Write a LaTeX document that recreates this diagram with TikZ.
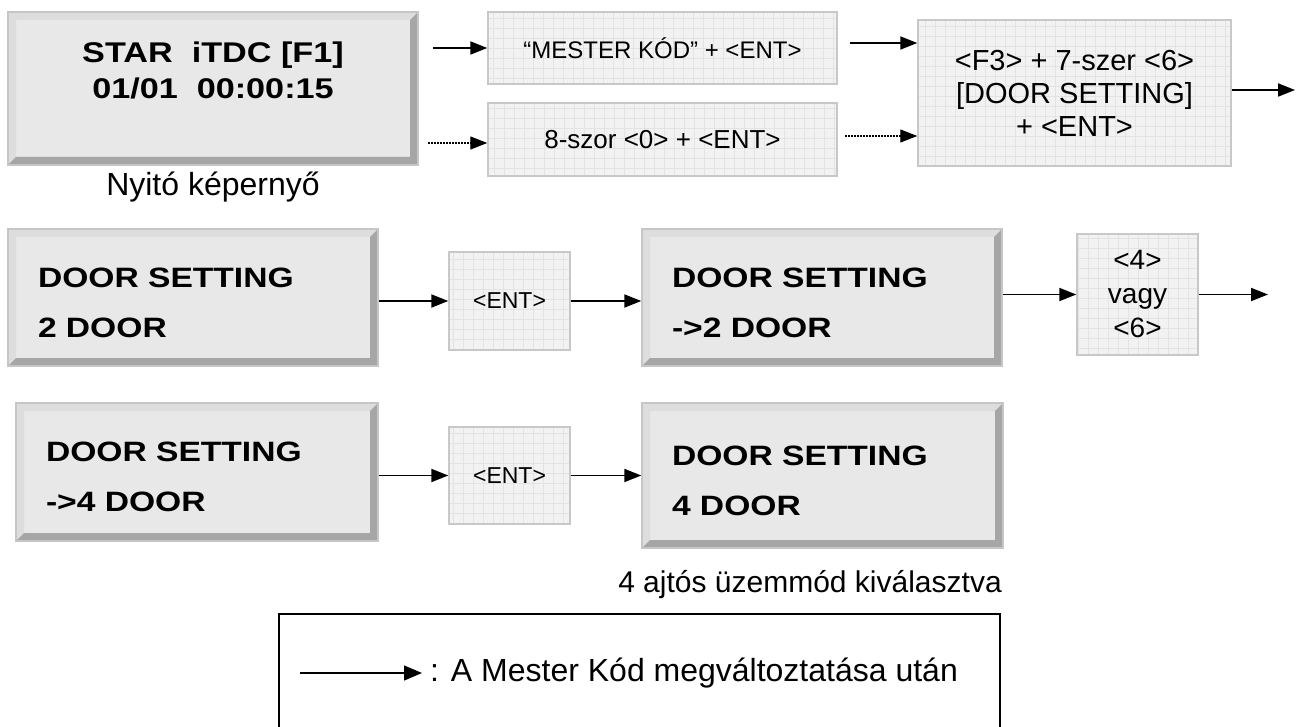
\documentclass[tikz,border=0pt]{standalone}
\usepackage{fontspec}
\setmainfont{Liberation Sans}
\newfontfamily\lcdfont[FakeStretch=1.2]{Liberation Sans}
\usetikzlibrary{arrows, arrows.meta}
\usetikzlibrary{calc}

\definecolor{lcdface}{HTML}{E8E8E8}
\definecolor{lcdedge}{HTML}{C6C6C6}
\definecolor{bevlight}{HTML}{DDDDDD}
\definecolor{bevdark}{HTML}{A6A6A6}
\definecolor{keyface}{HTML}{F2F2F2}
\definecolor{keyedge}{HTML}{C8C8C8}
\definecolor{keygrid}{HTML}{E3E3E3}

\tikzset{
  screen/.style={rectangle, fill=lcdface, draw=lcdedge, line width=1.5pt, inner xsep=30pt, inner ysep=0pt,
    align=left, font=\lcdfont\bfseries\fontsize{28}{50}\selectfont,
    path picture={
      \fill[bevlight] (path picture bounding box.north west) -- (path picture bounding box.north east)
        -- ([xshift=-8pt,yshift=-8pt]path picture bounding box.north east)
        -- ([xshift=8pt,yshift=-8pt]path picture bounding box.north west)
        -- ([xshift=8pt,yshift=8pt]path picture bounding box.south west)
        -- (path picture bounding box.south west) -- cycle;
      \fill[bevdark] (path picture bounding box.south east) -- (path picture bounding box.north east)
        -- ([xshift=-8pt,yshift=-8pt]path picture bounding box.north east)
        -- ([xshift=-8pt,yshift=8pt]path picture bounding box.south east)
        -- ([xshift=8pt,yshift=8pt]path picture bounding box.south west)
        -- (path picture bounding box.south west) -- cycle;
    }},
  doorscreen/.style={screen, text height=30pt},
  keybox/.style={rectangle, fill=keyface, draw=keyedge, line width=1.5pt, inner sep=0pt, align=center,
    path picture={
      \draw[keygrid, line width=0.5pt, step=10pt] (path picture bounding box.south west) grid (path picture bounding box.north east);
    }},
  flow/.style={-{Triangle[length=17pt,width=13pt]}, line width=1.8pt},
  altflow/.style={-{Triangle[length=17pt,width=13pt]}, line width=1.2pt, dash pattern=on 1.5pt off 1.5pt}
}

\begin{document}
\begin{tikzpicture}[x=1pt, y=-1pt]
      \useasboundingbox (0,0) rectangle (1296,727);

      \node[screen, align=center, inner xsep=0pt, text width=410pt, minimum height=153pt, font=\lcdfont\bfseries\fontsize{28.5}{36}\selectfont] (start) at (213,88.5) {STAR~~iTDC [F1]\\01/01~~00:00:15\\~};
      \node[font=\fontsize{32}{36}\selectfont] (startcap) at (213,187) {Nyitó képernyő};

      \node[keybox, minimum width=349pt, minimum height=72pt, font=\fontsize{24}{28}\selectfont] (kmester) at (662.5,48) {“MESTER KÓD” + <ENT>};
      \node[keybox, minimum width=349pt, minimum height=73pt, font=\fontsize{26}{30}\selectfont] (kzero) at (662.5,139.5) {8-szor <0> + <ENT>};
      \node[keybox, minimum width=313pt, minimum height=146pt, font=\fontsize{29}{33}\selectfont] (kdoor) at (1074.5,93) {<F3> + 7-szer <6>\\{}[DOOR SETTING]\\+ <ENT>};

      \node[doorscreen, text width=310pt, minimum height=137pt] (s2door) at (193,297.5) {DOOR SETTING\\2 DOOR};
      \node[keybox, minimum width=121pt, minimum height=98pt, font=\fontsize{23}{28}\selectfont] (kent1) at (509.5,301) {<ENT>};
      \node[doorscreen, text width=300pt, minimum height=137pt] (s2sel) at (822,297.5) {DOOR SETTING\\->2 DOOR};
      \node[keybox, minimum width=121pt, minimum height=121pt, font=\fontsize{28}{34}\selectfont] (kvagy) at (1137.5,294.5) {<4>\\vagy\\<6>};

      \node[doorscreen, text width=302pt, minimum height=138pt] (s4sel) at (197,472) {DOOR SETTING\\->4 DOOR};
      \node[keybox, minimum width=121pt, minimum height=97pt, font=\fontsize{23}{28}\selectfont] (kent2) at (509.5,475.5) {<ENT>};
      \node[doorscreen, text width=301pt, minimum height=145pt] (s4door) at (822.5,475.5) {DOOR SETTING\\4 DOOR};
      \node[font=\fontsize{30}{34}\selectfont] (donecap) at (810,585) {4 ajtós üzemmód kiválasztva};

      \coordinate (in1) at (433,48);
      \coordinate (in2) at (428,143);
      \coordinate (mid1) at (850,43);
      \coordinate (mid2) at (845,136);
      \coordinate (out1) at (1295,90);
      \coordinate (out2) at (1268,294.5);

      \draw[flow] (in1) -- (kmester.west);
      \draw[altflow] (in2) -- (in2 -| kzero.west);
      \draw[flow] (mid1) -- (mid1 -| kdoor.west);
      \draw[altflow] (mid2) -- (mid2 -| kdoor.west);
      \draw[flow] (kdoor.east |- out1) -- (out1);

      \draw[flow] (s2door.east |- kent1.west) -- (kent1.west);
      \draw[flow] (kent1.east) -- (kent1.east -| s2sel.west);
      \draw[flow] (s2sel.east |- kvagy.west) -- (kvagy.west);
      \draw[flow] (kvagy.east) -- (out2);

      \draw[flow] (s4sel.east |- kent2.west) -- (kent2.west);
      \draw[flow] (kent2.east) -- (kent2.east -| s4door.west);

      \draw[line width=2pt] (279,728) -- (279,614) -- (1000,614) -- (1000,728);
      \coordinate (legfrom) at (300,673);
      \node[anchor=west, font=\fontsize{32}{35}\selectfont, inner sep=0pt] (legtext) at (430,673) {: A Mester Kód megváltoztatása után};
      \draw[-{Triangle[length=18pt,width=15pt]}, line width=1.3pt] (legfrom) -- ([xshift=-8pt]legtext.west);
\end{tikzpicture}
\end{document}
